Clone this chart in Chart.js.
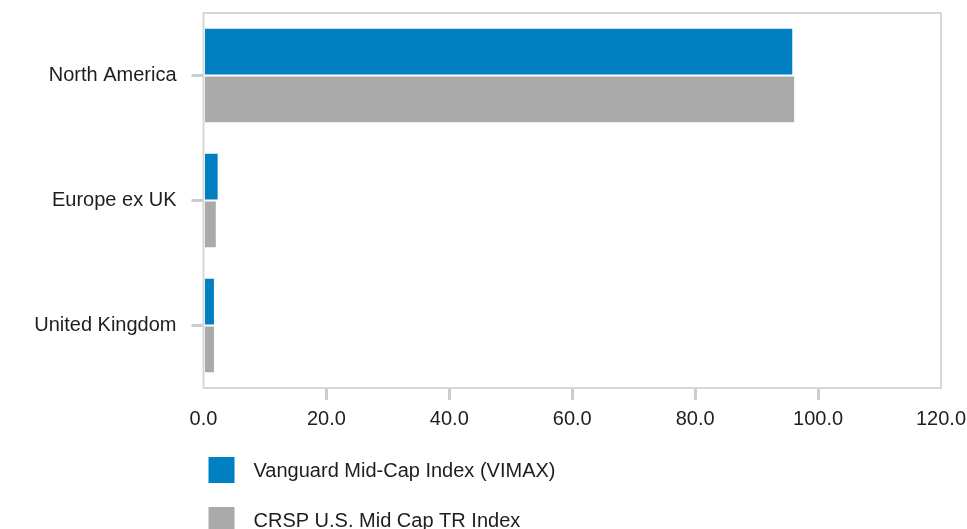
<!DOCTYPE html>
<html>
<head>
<meta charset="utf-8">
<script src="https://cdn.jsdelivr.net/npm/chart.js@4/dist/chart.umd.min.js"></script>
<style>
  html, body { margin: 0; padding: 0; background: #fff; overflow: hidden; }
  #wrap { width: 967px; height: 529px; }
</style>
</head>
<body>
<div id="wrap"><canvas id="regions" width="967" height="529"></canvas></div>
<script>
'use strict';

const regions = ['North America', 'Europe ex UK', 'United Kingdom'];
const fundWeights = [95.8, 2.3, 1.7];
const indexWeights = [96.1, 2.0, 1.7];
const seriesNames = ['Vanguard Mid-Cap Index (VIMAX)', 'CRSP U.S. Mid Cap TR Index'];
const seriesColors = ['#0080c3', '#aaaaaa'];

const FONT = '"Liberation Sans", Arial, sans-serif';
const TEXT_COLOR = '#1e1e1e';
const TICK_COLOR = '#c8cdd3';

// box around the plot area, drawn under the bars
const frame = {
  id: 'frame',
  beforeDatasetsDraw(chart) {
    const { ctx, chartArea: a } = chart;
    ctx.save();
    ctx.strokeStyle = '#d7d7d7';
    ctx.lineWidth = 2;
    ctx.strokeRect(a.left, a.top, a.right - a.left, a.bottom - a.top);
    ctx.restore();
  },
};

// stacked legend under the x axis
const legendList = {
  id: 'legendList',
  afterDraw(chart) {
    const { ctx, chartArea: a } = chart;
    ctx.save();
    ctx.font = '20px ' + FONT;
    ctx.textBaseline = 'middle';
    ctx.textAlign = 'left';
    chart.data.datasets.forEach((ds, i) => {
      const top = a.bottom + 69 + i * 50;
      ctx.fillStyle = ds.backgroundColor;
      ctx.fillRect(a.left + 5, top, 26, 26);
      ctx.fillStyle = TEXT_COLOR;
      ctx.fillText(ds.label, a.left + 50, top + 14);
    });
    ctx.restore();
  },
};

new Chart(document.getElementById('regions').getContext('2d'), {
  type: 'bar',
  data: {
    labels: regions,
    datasets: [
      { label: seriesNames[0], data: fundWeights, backgroundColor: seriesColors[0] },
      { label: seriesNames[1], data: indexWeights, backgroundColor: seriesColors[1] },
    ],
  },
  options: {
    indexAxis: 'y',
    responsive: false,
    animation: false,
    categoryPercentage: 0.766,
    barPercentage: 0.958,
    layout: { padding: { top: 13, right: 26, left: 0, bottom: 0 } },
    plugins: {
      legend: { display: false },
      tooltip: { enabled: false },
    },
    scales: {
      x: {
        min: 0,
        max: 120,
        grid: {
          drawOnChartArea: false,
          drawTicks: true,
          tickLength: 12,
          lineWidth: 3,
          // no tick marks at the two ends of the axis
          tickColor: (c) => (c.tick && (c.tick.value === 0 || c.tick.value === 120) ? 'rgba(0,0,0,0)' : TICK_COLOR),
        },
        border: { display: false },
        ticks: {
          stepSize: 20,
          padding: 7,
          color: TEXT_COLOR,
          font: { family: FONT, size: 20 },
          callback: (v) => Number(v).toFixed(1),
        },
        afterFit(scale) {
          scale.height = 141;
          scale.paddingLeft = 0;
          scale.paddingRight = 0;
        },
      },
      y: {
        grid: {
          offset: false,
          drawOnChartArea: false,
          drawTicks: true,
          tickLength: 12,
          lineWidth: 3,
          tickColor: TICK_COLOR,
        },
        border: { display: false },
        ticks: {
          padding: 15,
          color: TEXT_COLOR,
          font: { family: FONT, size: 20 },
        },
        afterFit(scale) {
          scale.width = 203.5;
          scale.paddingTop = 0;
          scale.paddingBottom = 0;
        },
      },
    },
  },
  plugins: [frame, legendList],
});
</script>
</body>
</html>
